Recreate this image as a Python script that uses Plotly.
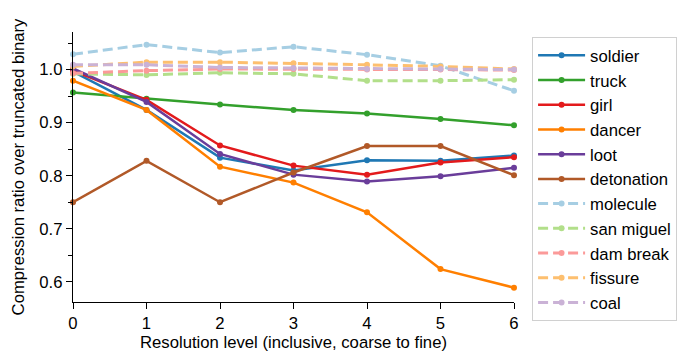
import plotly.graph_objects as go

levels = [0, 1, 2, 3, 4, 5, 6]

soldier = [0.996, 0.924, 0.834, 0.810, 0.829, 0.828, 0.838]
truck = [0.957, 0.945, 0.934, 0.924, 0.917, 0.907, 0.895]
girl = [0.998, 0.943, 0.857, 0.819, 0.802, 0.825, 0.835]
dancer = [0.979, 0.924, 0.817, 0.787, 0.731, 0.624, 0.589]
loot = [1.002, 0.939, 0.841, 0.802, 0.789, 0.799, 0.815]
detonation = [0.750, 0.828, 0.750, 0.806, 0.856, 0.856, 0.801]
molecule = [1.029, 1.047, 1.032, 1.043, 1.028, 1.007, 0.960]
san_miguel = [0.992, 0.990, 0.994, 0.992, 0.979, 0.979, 0.981]
dam_break = [0.993, 0.998, 1.001, 1.001, 1.000, 1.000, 0.999]
fissure = [1.006, 1.014, 1.014, 1.012, 1.009, 1.006, 1.001]
coal = [1.009, 1.009, 1.004, 1.003, 1.001, 1.001, 1.000]

series = [
    ("soldier", soldier, "#1f78b4", "solid"),
    ("truck", truck, "#33a02c", "solid"),
    ("girl", girl, "#e31a1c", "solid"),
    ("dancer", dancer, "#ff7f00", "solid"),
    ("loot", loot, "#6a3d9a", "solid"),
    ("detonation", detonation, "#b15928", "solid"),
    ("molecule", molecule, "#a6cee3", "dash"),
    ("san miguel", san_miguel, "#b2df8a", "dash"),
    ("dam break", dam_break, "#fb9a99", "dash"),
    ("fissure", fissure, "#fdbf6f", "dash"),
    ("coal", coal, "#cab2d6", "dash"),
]

fig = go.Figure()
for name, vals, color, dash in series:
    fig.add_trace(go.Scatter(
        x=levels, y=vals, name=name, mode="lines+markers",
        line=dict(color=color, width=2.5 if dash == "solid" else 3,
                  dash="solid" if dash == "solid" else "10px,5px"),
        marker=dict(color=color, size=6),
        cliponaxis=False,
    ))

font = "Liberation Sans, Arial, sans-serif"
fs = 16.7
H = 356
T, B = 10, 30
gh = H - T - B
ax_top_px, ax_bot_px = 32, 302
dom = [(H - B - ax_bot_px) / gh, (H - B - ax_top_px) / gh]
leg_y = (H - B - 37) / gh

fig.update_layout(
    width=699, height=H,
    margin=dict(l=73, r=185, t=T, b=B),
    plot_bgcolor="white", paper_bgcolor="white",
    font=dict(family=font, size=fs, color="black"),
    showlegend=True,
    legend=dict(
        x=1.041, y=leg_y, xanchor="left", yanchor="top",
        bordercolor="#d0d0d0", borderwidth=1,
        font=dict(size=fs), itemwidth=47,
        tracegroupgap=0,
    ),
    xaxis=dict(
        title=dict(text="Resolution level (inclusive, coarse to fine)", font=dict(size=fs), standoff=3),
        range=[0, 6], tickvals=levels, showgrid=False, zeroline=False,
        showline=True, linecolor="black", linewidth=1.3,
        ticks="outside", ticklen=6, tickwidth=1.3, tickcolor="black",
        tickfont=dict(size=fs), automargin=False,
    ),
    yaxis=dict(
        title=dict(text="Compression ratio over truncated binary", font=dict(size=fs), standoff=10),
        range=[0.562, 1.0708], tickvals=[0.6, 0.7, 0.8, 0.9, 1.0],
        ticktext=["0.6", "0.7", "0.8", "0.9", "1.0"],
        domain=dom,
        showgrid=False, zeroline=False,
        showline=True, linecolor="black", linewidth=1.3,
        ticks="outside", ticklen=6, tickwidth=1.3, tickcolor="black",
        minor=dict(tickvals=[0.65, 0.75, 0.85, 0.95, 1.05], ticks="outside", ticklen=4,
                   tickwidth=1, tickcolor="black"),
        tickfont=dict(size=fs), automargin=False,
    ),
)

fig.write_html("out.html", config={"displayModeBar": False},
               post_script="document.body.style.margin='0px';")
